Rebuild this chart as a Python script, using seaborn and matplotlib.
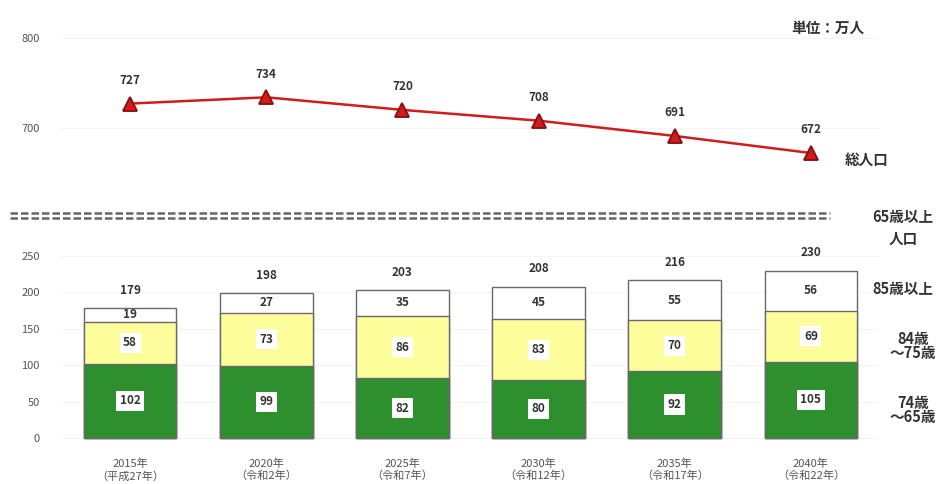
import matplotlib
matplotlib.use("Agg")
import matplotlib.pyplot as plt
import seaborn as sns
import numpy as np
import pandas as pd

# Data (unit: 10,000 people)
years = ["2015年\n（平成27年）", "2020年\n（令和2年）", "2025年\n（令和7年）",
         "2030年\n（令和12年）", "2035年\n（令和17年）", "2040年\n（令和22年）"]
total_pop = [727, 734, 720, 708, 691, 672]
age_65_74 = [102, 99, 82, 80, 92, 105]
age_75_84 = [58, 73, 86, 83, 70, 69]
age_85_up = [19, 27, 35, 45, 55, 56]
elderly_total = [179, 198, 203, 208, 216, 230]

sns.set_theme(style="white")
plt.rcParams["font.family"] = ["Noto Sans CJK JP", "DejaVu Sans"]

W, H = 946, 484
fig = plt.figure(figsize=(W / 100, H / 100), dpi=100)
fig.patch.set_facecolor("white")

def px_axes(left, top, right, bottom):
    return fig.add_axes([left / W, 1 - bottom / H, (right - left) / W, (bottom - top) / H])

GREEN = "#2d8f2d"
YELLOW = "#fdfd9c"
EDGE = "#6a6a6a"
TICK = "#555555"

df = pd.DataFrame({
    "year": years,
    "total_pop": total_pop,
    "a65": age_65_74,
    "a75": age_75_84,
    "a85": age_85_up,
    "elderly": elderly_total,
})
df["cum75"] = df["a65"] + df["a75"]
df["cum85"] = df["cum75"] + df["a85"]

# ---- Top panel: total population line ----
ax1 = px_axes(62, 20, 879, 180)
sns.pointplot(data=df, x="year", y="total_pop", ax=ax1, color="#d01c1c",
              markers="^", markersize=10, linewidth=1.8, order=years)
for line in ax1.lines:
    line.set_markeredgecolor("#8a1010")
ax1.set_xlim(-0.5, 5.5)
ax1.set_ylim(642, 820)
ax1.set_yticks([700, 800])
ax1.set_xticks([])
ax1.set_xlabel("")
ax1.set_ylabel("")
ax1.tick_params(axis="y", length=0, pad=16, labelsize=8, labelcolor=TICK)
ax1.grid(axis="y", color="#f4f4f4", linewidth=0.8)
for s in ax1.spines.values():
    s.set_visible(False)
for i, v in enumerate(df["total_pop"]):
    ax1.annotate(f"{v}", (i, v), xytext=(0, 12), textcoords="offset points",
                 ha="center", va="bottom", fontsize=8.5, color="#333333",
                 fontweight="bold")

# ---- Bottom panel: stacked bars of population aged 65+ ----
ax2 = px_axes(62, 240, 879, 442)
bar_kw = dict(x="year", order=years, width=0.68, edgecolor=EDGE, linewidth=1.0,
              ax=ax2)
sns.barplot(data=df, y="cum85", color="white", saturation=1, **bar_kw)
sns.barplot(data=df, y="cum75", color=YELLOW, saturation=1, **bar_kw)
sns.barplot(data=df, y="a65", color=GREEN, saturation=1, **bar_kw)
ax2.set_xlim(-0.5, 5.5)
ax2.set_ylim(-5.5, 272)
ax2.set_yticks([0, 50, 100, 150, 200, 250])
ax2.set_xlabel("")
ax2.set_ylabel("")
ax2.tick_params(axis="y", length=0, pad=16, labelsize=8, labelcolor=TICK)
ax2.tick_params(axis="x", length=0, pad=12, labelsize=8, labelcolor=TICK)
ax2.grid(axis="y", color="#f4f4f4", linewidth=0.8)
ax2.set_axisbelow(True)
for s in ax2.spines.values():
    s.set_visible(False)

box = dict(boxstyle="square,pad=0.3", facecolor="white", edgecolor="none")
for i in range(len(years)):
    a65, a75, a85 = df["a65"][i], df["a75"][i], df["a85"][i]
    ax2.text(i, a65 / 2, f"{a65}", ha="center", va="center", fontsize=8.5,
             color="#333333", fontweight="bold", bbox=box)
    ax2.text(i, a65 + a75 / 2, f"{a75}", ha="center", va="center", fontsize=8.5,
             color="#333333", fontweight="bold", bbox=box)
    ax2.text(i, a65 + a75 + a85 / 2, f"{a85}", ha="center", va="center",
             fontsize=8.5, color="#333333", fontweight="bold")
    ax2.annotate(f"{df['elderly'][i]}", (i, df["cum85"][i]), xytext=(0, 8),
                 textcoords="offset points", ha="center", va="bottom",
                 fontsize=8.5, color="#333333", fontweight="bold")

# ---- Break marker between the panels ----
for yy in (213, 218):
    fig.add_artist(plt.Line2D([10 / W, 830 / W], [1 - yy / H, 1 - yy / H],
                              color="#666666", linewidth=1.8,
                              linestyle=(0, (3, 1.2))))

# ---- Side labels ----
lab = dict(fontsize=10.5, fontweight="bold", color="#333333")
fig.text(828 / W, 1 - 28 / H, "単位：万人", ha="center", va="center", **lab)
fig.text(845 / W, 1 - 160 / H, "総人口", ha="left", va="center", **lab)
fig.text(903 / W, 1 - 228 / H, "65歳以上\n人口", ha="center", va="center",
         linespacing=1.5, **lab)
fig.text(903 / W, 1 - 289 / H, "85歳以上", ha="center", va="center", **lab)
fig.text(913 / W, 1 - 346 / H, "84歳\n～75歳", ha="center", va="center",
         linespacing=0.9, **lab)
fig.text(913 / W, 1 - 410 / H, "74歳\n～65歳", ha="center", va="center",
         linespacing=0.9, **lab)

fig.savefig("out.png", dpi=100, facecolor="white")
